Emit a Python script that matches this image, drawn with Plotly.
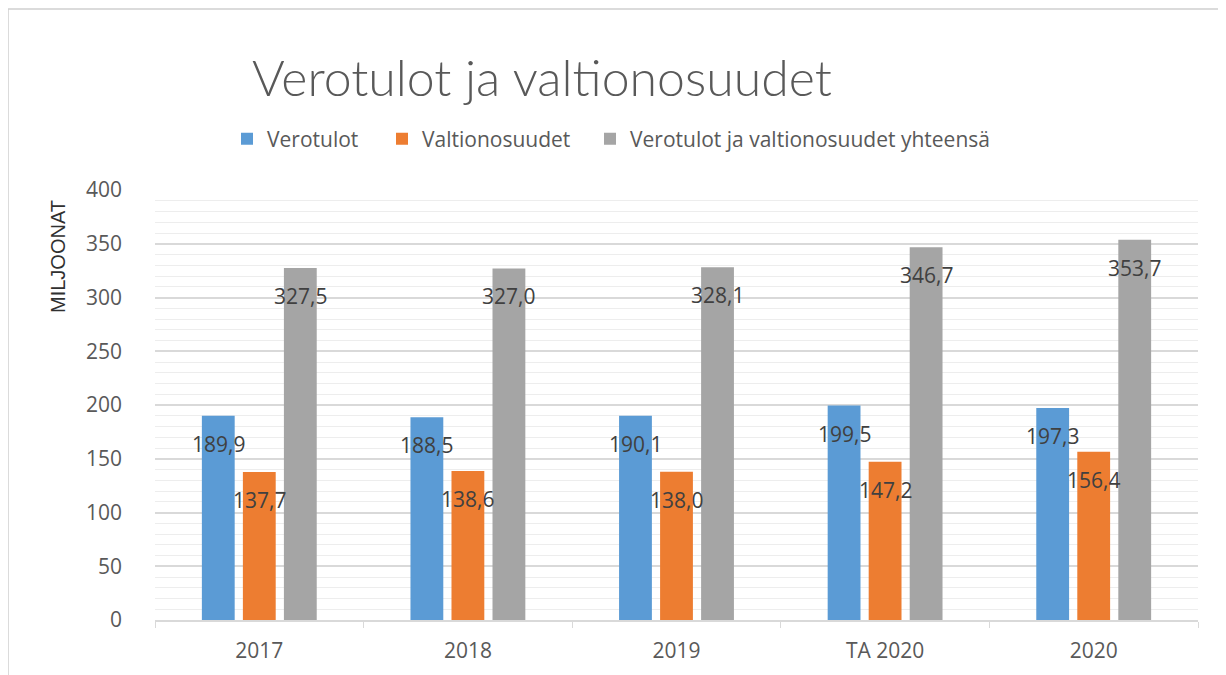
import plotly.graph_objects as go

categories = ["2017", "2018", "2019", "TA 2020", "2020"]
verotulot = [189.9, 188.5, 190.1, 199.5, 197.3]
valtionosuudet = [137.7, 138.6, 138.0, 147.2, 156.4]
yhteensa = [327.5, 327.0, 328.1, 346.7, 353.7]
series_names = ["Verotulot", "Valtionosuudet", "Verotulot ja valtionosuudet yhteensä"]
series_values = [verotulot, valtionosuudet, yhteensa]
colors = ["#5B9BD5", "#ED7D31", "#A5A5A5"]
y_ticks = [0, 50, 100, 150, 200, 250, 300, 350, 400]

OFF = 8  # page body margin
W, H = 1226 - OFF, 675 - OFF
ML, MR, MT, MB = 155 - OFF, 28, 190 - OFF, 55
plot_w = W - ML - MR
plot_h = H - MT - MB


def px(sx):
    return (sx - OFF - ML) / plot_w


def py(sy):
    return (H - MB - (sy - OFF)) / plot_h


bargap = 0.41
cat_w = plot_w / len(categories)
slot = cat_w * (1 - bargap) / 3

FONT = "Open Sans"
TXT = "#595959"

legend_ids = ["legend", "legend2", "legend3"]
legend_text_x = [267, 422, 630]

fig = go.Figure()
for name, vals, c, lid in zip(series_names, series_values, colors, legend_ids):
    fig.add_trace(go.Bar(x=categories, y=vals, name=name, marker_color=c,
                         marker_line_width=0, hoverinfo="skip", legend=lid))

annotations = []
for i, vals in enumerate(series_values):
    for ci, v in enumerate(vals):
        annotations.append(dict(
            x=ci, y=v, xref="x", yref="y", text=f"{v:.1f}".replace(".", ","),
            showarrow=False, xshift=(i - 1) * slot, yshift=-28,
            font=dict(family=FONT, size=21, color="#404040"),
            xanchor="center", yanchor="middle"))

annotations.append(dict(
    text="MILJOONAT", textangle=-90, xref="paper", yref="paper",
    x=px(58), y=py(257), showarrow=False,
    font=dict(family="Liberation Sans", size=20, color="#303030"),
    xanchor="center", yanchor="middle"))

legend_layout = {}
for lid, tx in zip(legend_ids, legend_text_x):
    legend_layout[lid] = dict(
        orientation="h", x=px(tx - 40), xanchor="left", y=py(139), yanchor="middle",
        font=dict(family=FONT, size=21, color=TXT), itemwidth=30,
        bgcolor="rgba(0,0,0,0)", borderwidth=0)

fig.update_layout(
    width=W, height=H,
    margin=dict(l=ML, r=MR, t=MT, b=MB),
    paper_bgcolor="white", plot_bgcolor="white",
    barmode="group", bargap=bargap, bargroupgap=0.2,
    title=dict(text="Verotulot ja valtionosuudet", x=(252 - OFF) / W, xanchor="left",
               y=1 - (78 - OFF) / H, yanchor="middle",
               font=dict(family="Lato", size=50, color=TXT, weight=300)),
    showlegend=True,
    annotations=annotations,
    xaxis=dict(type="category", range=[-0.5, len(categories) - 0.5],
               showline=True, linecolor="#d9d9d9", linewidth=1.5,
               ticks="outside", tickson="boundaries", ticklen=6, tickcolor="#d9d9d9",
               tickfont=dict(family=FONT, size=21, color=TXT), showgrid=False,
               ticklabelstandoff=11, tickangle=0, fixedrange=True),
    yaxis=dict(range=[0, 400], tickvals=y_ticks, showgrid=True, gridcolor="#d9d9d9",
               gridwidth=1.5, zeroline=False, showline=False,
               tickfont=dict(family=FONT, size=21, color=TXT), ticklabelstandoff=32,
               minor=dict(dtick=10, showgrid=True, gridcolor="#ededed", gridwidth=1),
               fixedrange=True),
    shapes=[dict(type="rect", xref="paper", yref="paper",
                 x0=px(8), x1=px(1224), y0=py(700), y1=py(9),
                 line=dict(color="#d0d0d0", width=1.5), fillcolor="rgba(0,0,0,0)",
                 layer="below")],
    **legend_layout,
)

fig.write_html("out.html")
